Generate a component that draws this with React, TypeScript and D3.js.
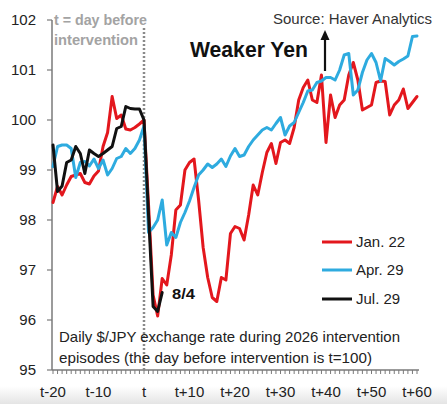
import React from "react";
import * as d3 from "d3";

// ---- Data ----
const days: number[] = d3.range(-20, 61);

const jan22: number[] = [
  98.35, 98.67, 98.5, 98.7, 98.87, 98.9, 98.93, 98.75, 98.72, 98.88, 98.98,
  99.47, 99.75, 100.47, 100.03, 100.1, 99.82, 99.8, 99.85, 99.92, 100.0,
  98.3, 96.5, 96.08, 96.83, 96.7, 97.3, 98.2, 98.3, 99.0, 99.15,
  99.22, 98.4, 97.45, 96.85, 96.45, 96.37, 96.85, 96.8, 97.73, 97.87,
  97.83, 97.6, 98.1, 98.7, 98.5, 98.95, 99.35, 99.53, 99.13, 99.55,
  99.6, 99.53, 99.85, 100.4, 100.65, 100.8, 100.4, 100.35, 100.9, 99.55,
  100.5, 100.05, 100.3, 100.4, 100.9, 101.15, 100.8, 100.2, 100.25, 100.3,
  100.75, 100.78, 100.77, 100.1, 100.3, 100.4, 100.62, 100.23, 100.35, 100.47,
];

const apr29: number[] = [
  99.07, 99.47, 99.5, 99.5, 99.43, 98.85, 99.15, 99.17, 99.08, 99.22, 99.03,
  99.2, 98.9, 99.03, 99.23, 99.27, 99.43, 99.33, 99.43, 99.6, 99.88,
  97.75, 97.85, 98.0, 98.4, 97.5, 97.75, 97.65, 97.95, 98.15, 98.38,
  98.65, 98.9, 99.0, 99.12, 99.05, 99.12, 99.22, 99.07, 99.28, 99.43,
  99.27, 99.3, 99.47, 99.6, 99.7, 99.8, 99.85, 99.8, 99.93, 100.05,
  99.7, 99.88, 99.95, 100.15, 100.35, 100.58, 100.6, 100.75, 100.78, 100.85,
  100.85, 100.8, 101.0, 101.3, 101.33, 100.5, 100.6, 100.95, 101.2, 101.33,
  101.15, 100.78, 101.23, 101.17, 101.1, 101.17, 101.22, 101.28, 101.67, 101.68,
];

const jul29: number[] = [
  99.5, 98.57, 98.68, 99.15, 99.2, 99.47, 99.33, 98.93, 99.4, 99.33, 99.27,
  99.33, 99.4, 99.47, 99.83, 99.87, 100.27, 100.23, 100.22, 100.22, 100.0,
  98.1, 96.27, 96.17, 96.55,
];

const yTicks: number[] = [95, 96, 97, 98, 99, 100, 101, 102];
const xTickValues: number[] = [-20, -10, 0, 10, 20, 30, 40, 50, 60];
const xTickLabel = (t: number) => (t === 0 ? "t" : t < 0 ? `t${t}` : `t+${t}`);

const seriesNames: string[] = ["Jan. 22", "Apr. 29", "Jul. 29"];
const seriesColors: string[] = ["#e3171d", "#2eabdf", "#111111"];
const seriesData: number[][] = [jan22, apr29, jul29];

const FONT = "'Liberation Sans', Arial, Helvetica, sans-serif";

export default function App() {
  const W = 447;
  const H = 404;
  const x = d3.scaleLinear().domain([-20, 60]).range([53, 417]);
  const y = d3.scaleLinear().domain([95, 102]).range([370, 20]);
  const axisX = 52;
  const axisY = y(95);

  const line = d3
    .line<number>()
    .x((_, i) => x(days[i]))
    .y((d) => y(d));

  const dayTicks = d3.range(-20, 61);

  return (
    <svg
      width={W}
      height={H}
      style={{ position: "absolute", left: 0, top: 0, background: "#fff" }}
      fontFamily={FONT}
    >
      <defs>
        <linearGradient id="bottomFade" x1="0" y1="0" x2="0" y2="1">
          <stop offset="0" stopColor="#ffffff" stopOpacity={1} />
          <stop offset="1" stopColor="#e4e4e4" stopOpacity={1} />
        </linearGradient>
      </defs>
      <rect x={0} y={0} width={W} height={H} fill="#fff" />
      <rect x={0} y={386} width={W} height={H - 386} fill="url(#bottomFade)" />

      {/* Y axis */}
      <line x1={axisX} x2={axisX} y1={y(102)} y2={axisY} stroke="#7a7a7a" strokeWidth={1.5} />
      {yTicks.map((v) => (
        <g key={v}>
          <line x1={axisX - 5} x2={axisX} y1={y(v)} y2={y(v)} stroke="#7a7a7a" strokeWidth={1.2} />
          <text x={36} y={y(v)} dy="0.36em" textAnchor="end" fontSize={15} fill="#222">
            {v}
          </text>
        </g>
      ))}

      {/* X axis */}
      <line x1={axisX} x2={419} y1={axisY} y2={axisY} stroke="#7a7a7a" strokeWidth={1.5} />
      {dayTicks.map((t) => (
        <line key={t} x1={x(t)} x2={x(t)} y1={axisY} y2={axisY + 4} stroke="#7a7a7a" strokeWidth={1} />
      ))}
      {xTickValues.map((t) => (
        <text key={t} x={x(t)} y={397} textAnchor="middle" fontSize={15} fill="#222">
          {xTickLabel(t)}
        </text>
      ))}

      {/* intervention marker */}
      <line
        x1={x(0)}
        x2={x(0)}
        y1={28}
        y2={axisY}
        stroke="#8a8a8a"
        strokeWidth={2.5}
        strokeDasharray="2,2"
      />
      <text x={54} y={25} fontSize={14} fontWeight="bold" fill="#a3a3a3" textLength={93} lengthAdjust="spacingAndGlyphs">
        t = day before
      </text>
      <text x={54} y={45} fontSize={14} fontWeight="bold" fill="#a3a3a3" textLength={84} lengthAdjust="spacingAndGlyphs">
        intervention
      </text>

      {/* series */}
      {seriesData.map((data, i) => (
        <path
          key={seriesNames[i]}
          d={line(data) || ""}
          fill="none"
          stroke={seriesColors[i]}
          strokeWidth={3}
          strokeLinejoin="round"
          strokeLinecap="round"
        />
      ))}

      {/* annotations */}
      <text x={273} y={24} fontSize={15} fill="#333" textLength={159} lengthAdjust="spacingAndGlyphs">
        Source: Haver Analytics
      </text>
      <text x={190} y={57} fontSize={22} fontWeight="bold" fill="#111" textLength={118} lengthAdjust="spacingAndGlyphs">
        Weaker Yen
      </text>
      <line x1={325} x2={325} y1={71} y2={38} stroke="#111" strokeWidth={2.2} />
      <polygon points="325,30 320.5,40 329.5,40" fill="#111" />

      <text x={172} y={299} fontSize={15} fontWeight="bold" fill="#111" textLength={23} lengthAdjust="spacingAndGlyphs">
        8/4
      </text>

      <text x={59} y={342} fontSize={15} fill="#222" textLength={341} lengthAdjust="spacingAndGlyphs">
        Daily $/JPY exchange rate during 2026 intervention
      </text>
      <text x={59} y={363} fontSize={15} fill="#222" textLength={313} lengthAdjust="spacingAndGlyphs">
        episodes (the day before intervention is t=100)
      </text>

      {/* legend */}
      {seriesNames.map((name, i) => {
        const ly = [242, 270, 299][i];
        return (
          <g key={name}>
            <line x1={322} x2={352} y1={ly} y2={ly} stroke={seriesColors[i]} strokeWidth={3} />
            <text x={356} y={ly} dy="0.36em" fontSize={15} fill="#222">
              {name}
            </text>
          </g>
        );
      })}
    </svg>
  );
}
